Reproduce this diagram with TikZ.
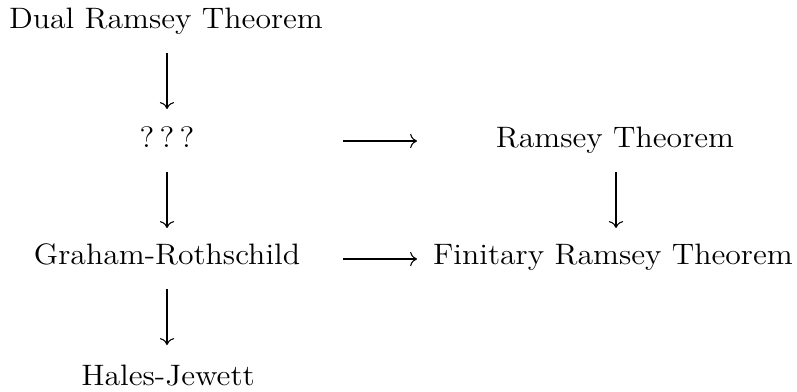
\documentclass[tikz,border=0pt]{standalone}
\usetikzlibrary{arrows.meta}
\begin{document}
\begin{tikzpicture}[x=0.379pt,y=-0.379pt,
  lbl/.style={inner sep=0pt,anchor=base,font=\fontsize{11.2}{13}\selectfont},
  arr/.style={line width=0.4pt,-{To[length=2.6pt,width=5.4pt]}}]
\useasboundingbox (0,0) rectangle (797,392);
\node[lbl] (dual) at (166,29) {\scalebox{1.075}[1]{Dual Ramsey Theorem}};
\node[lbl] (q) at (167,148) {\scalebox{1.075}[1]{?\,?\,?}};
\node[lbl] (ram) at (615,148) {\scalebox{1.075}[1]{Ramsey Theorem}};
\node[lbl] (gr) at (167,265) {\scalebox{1.075}[1]{Graham-Rothschild}};
\node[lbl] (fin) at (613,265) {\scalebox{1.075}[1]{Finitary Ramsey Theorem}};
\node[lbl] (hj) at (168,385) {\scalebox{1.075}[1]{Hales-Jewett}};
% arrow ends
\coordinate (d1s) at (167,53);  \coordinate (d1e) at (167,109);
\coordinate (d2s) at (167,172); \coordinate (d2e) at (167,228);
\coordinate (d3s) at (616,172); \coordinate (d3e) at (616,228);
\coordinate (d4s) at (167,289); \coordinate (d4e) at (167,345);
\coordinate (r1s) at (343,141); \coordinate (r1e) at (417,141);
\coordinate (r2s) at (343,259); \coordinate (r2e) at (417,259);
\draw[arr] (d1s) -- (d1e);
\draw[arr] (d2s) -- (d2e);
\draw[arr] (d3s) -- (d3e);
\draw[arr] (d4s) -- (d4e);
\draw[arr] (r1s) -- (r1e);
\draw[arr] (r2s) -- (r2e);
\end{tikzpicture}
\end{document}
